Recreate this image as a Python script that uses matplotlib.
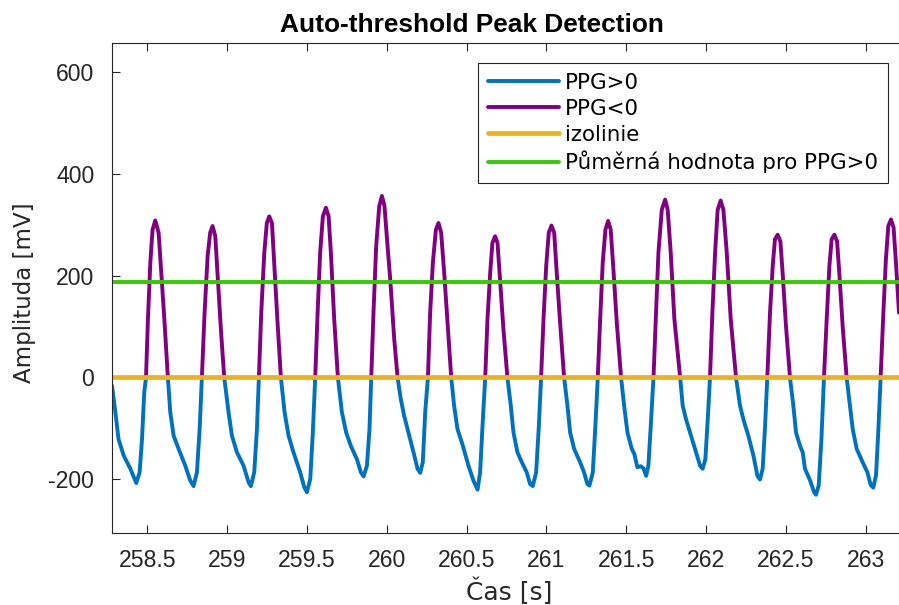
import matplotlib
matplotlib.use("Agg")
import matplotlib.pyplot as plt
import numpy as np

plt.rcParams["axes.unicode_minus"] = False
plt.rcParams["lines.solid_joinstyle"] = "round"
plt.rcParams["lines.solid_capstyle"] = "round"

# time [s] and PPG amplitude [mV]
cas = [
    258.279, 258.300, 258.320, 258.352, 258.394, 258.431, 258.452, 258.467, 258.481, 258.492,
    258.504, 258.519, 258.533, 258.550, 258.571, 258.588, 258.607, 258.629,
    258.644, 258.665, 258.696, 258.738, 258.769, 258.790, 258.811, 258.828, 258.842,
    258.859, 258.878, 258.894, 258.909, 258.926, 258.940, 258.961, 258.982,
    259.009, 259.030, 259.062, 259.103, 259.135, 259.149, 259.170, 259.187, 259.199,
    259.214, 259.233, 259.249, 259.264, 259.281, 259.295, 259.316, 259.337,
    259.360, 259.385, 259.416, 259.458, 259.483, 259.500, 259.521, 259.537, 259.552,
    259.567, 259.583, 259.600, 259.619, 259.636, 259.650, 259.671, 259.694,
    259.719, 259.746, 259.775, 259.813, 259.838, 259.855, 259.876, 259.892, 259.903,
    259.917, 259.934, 259.953, 259.970, 259.986, 260.005, 260.022, 260.047, 260.068,
    260.088, 260.109, 260.136, 260.168, 260.193, 260.210, 260.226, 260.241, 260.258,
    260.272, 260.289, 260.308, 260.324, 260.341, 260.360, 260.381, 260.404,
    260.422, 260.443, 260.477, 260.512, 260.543, 260.569, 260.585, 260.600, 260.617,
    260.631, 260.648, 260.662, 260.679, 260.694, 260.710, 260.731, 260.756,
    260.777, 260.794, 260.819, 260.846, 260.877, 260.898, 260.915, 260.936, 260.953, 260.967,
    260.982, 260.999, 261.015, 261.032, 261.049, 261.065, 261.086, 261.111,
    261.132, 261.149, 261.174, 261.211, 261.236, 261.257, 261.270, 261.291, 261.307, 261.322,
    261.337, 261.353, 261.370, 261.387, 261.403, 261.420, 261.441, 261.468,
    261.487, 261.508, 261.535, 261.551, 261.570, 261.591, 261.608, 261.625, 261.639, 261.654, 261.671,
    261.687, 261.702, 261.723, 261.744, 261.760, 261.779, 261.802, 261.838,
    261.854, 261.875, 261.900, 261.931, 261.963, 261.979, 261.996, 262.011, 262.025,
    262.040, 262.057, 262.073, 262.092, 262.109, 262.130, 262.155, 262.188,
    262.213, 262.234, 262.265, 262.297, 262.322, 262.338, 262.355, 262.370, 262.384,
    262.401, 262.418, 262.432, 262.449, 262.466, 262.480, 262.501, 262.526,
    262.547, 262.564, 262.589, 262.606, 262.620, 262.652, 262.677, 262.689, 262.706, 262.723, 262.739,
    262.756, 262.773, 262.787, 262.804, 262.821, 262.835, 262.856, 262.881,
    262.902, 262.919, 262.944, 262.981, 263.011, 263.032, 263.048, 263.065, 263.079, 263.094,
    263.111, 263.127, 263.142, 263.159, 263.175, 263.190, 263.203, 263.209,
]
ppg = [
    -16, -68, -121, -153, -179, -207, -186, -121, -29, 0,
    114, 225, 290, 308, 284, 205, 114, 0,
    -68, -114, -140, -173, -202, -213, -186, -101, 0,
    127, 238, 284, 297, 277, 205, 95, 0,
    -68, -114, -147, -173, -206, -213, -186, -101, 0,
    127, 245, 303, 316, 303, 225, 108, 0,
    -68, -114, -147, -186, -215, -225, -199, -108, 0,
    127, 245, 316, 333, 316, 245, 114, 0,
    -68, -108, -134, -160, -186, -194, -173, -101, 0,
    127, 258, 336, 356, 336, 258, 192, 75, 0,
    -42, -75, -108, -147, -179, -187, -166, -68, 0,
    127, 225, 290, 303, 284, 205, 108, 0,
    -55, -101, -134, -173, -202, -220, -186, -95, 0,
    114, 205, 264, 277, 264, 192, 95, 0,
    -55, -108, -147, -166, -186, -209, -213, -186, -95, 0,
    114, 219, 284, 298, 284, 205, 108, 0,
    -55, -108, -140, -166, -186, -209, -212, -186, -95, 0,
    114, 225, 290, 307, 290, 212, 108, 0,
    -55, -108, -140, -150, -176, -174, -178, -193, -173, -95, 0,
    127, 245, 329, 349, 329, 245, 114, 0,
    -55, -82, -108, -140, -173, -179, -160, -82, 0,
    127, 245, 329, 347, 329, 245, 114, 0,
    -55, -82, -114, -153, -193, -200, -179, -95, 0,
    127, 219, 271, 280, 267, 205, 101, 0,
    -55, -108, -134, -147, -179, -202, -225, -230, -212, -121, 0,
    114, 219, 271, 280, 267, 205, 101, 0,
    -55, -101, -140, -166, -186, -211, -216, -192, -108, 0,
    127, 232, 297, 310, 294, 225, 160, 127,
]
izolinie_val = 0
prumer_val = 188

legend_labels = ["PPG>0", "PPG<0", "izolinie", "Půměrná hodnota pro PPG>0"]
x_ticks = [258.5, 259, 259.5, 260, 260.5, 261, 261.5, 262, 262.5, 263]
y_ticks = [-200, 0, 200, 400, 600]

axis_color = "#262626"
tick_size = 16.6
label_size = 16.5
legend_size = 15.4

t = np.array(cas)
y = np.array(ppg, dtype=float)
neg = np.where(y <= 0, y, np.nan)
pos = np.where(y >= 0, y, np.nan)

fig = plt.figure(figsize=(8.99, 6.05), dpi=100)
ax = fig.add_axes([112 / 899, 72 / 605, 787 / 899, 490 / 605])

ax.plot(t, neg, color="#0072BD", lw=2.8, label=legend_labels[0])
ax.plot(t, pos, color="#800080", lw=2.8, label=legend_labels[1])
ax.plot(t, np.full(len(t), izolinie_val), color="#EDB120", lw=3.4, label=legend_labels[2])
ax.plot(t, np.full(len(t), prumer_val), color="#33CC00", lw=2.8, label=legend_labels[3])

ax.set_xlim(t[0], t[-1])
ax.set_ylim(-305, 656)
ax.set_xticks(x_ticks)
ax.set_xticklabels(["%g" % v for v in x_ticks])
ax.set_yticks(y_ticks)

for s in ["left", "bottom", "top"]:
    ax.spines[s].set_color(axis_color)
    ax.spines[s].set_linewidth(0.8)
ax.spines["right"].set_visible(False)

ax.tick_params(axis="both", direction="in", length=6, width=0.8, color=axis_color,
               labelcolor=axis_color, labelsize=tick_size, top=True, right=False)
ax.tick_params(axis="x", pad=11.5)
ax.tick_params(axis="y", pad=12.7)
for lab in ax.get_xticklabels() + ax.get_yticklabels():
    lab.set_family("Liberation Sans")

ax.set_xlabel("Čas [s]", fontsize=18, family="DejaVu Sans", color=axis_color)
ax.xaxis.set_label_coords(0.505, -0.092)
ax.set_ylabel("Amplituda [mV]", fontsize=label_size, family="DejaVu Sans", color=axis_color)
ax.yaxis.set_label_coords(-0.096, 0.49)

ax.text(0.457, 1.023, "Auto-threshold Peak Detection", transform=ax.transAxes,
        ha="center", va="baseline", fontsize=18.9, fontweight="bold",
        family="Liberation Sans", color="black")

leg = ax.legend(loc="upper right", bbox_to_anchor=(0.986, 0.959), borderaxespad=0,
                prop={"family": "DejaVu Sans", "size": legend_size},
                handlelength=3.36, handletextpad=0.28, labelspacing=0.28,
                borderpad=0.45, fancybox=False, framealpha=1)
leg.get_frame().set_edgecolor(axis_color)
leg.get_frame().set_linewidth(0.8)

fig.savefig("out.png", dpi=100)
